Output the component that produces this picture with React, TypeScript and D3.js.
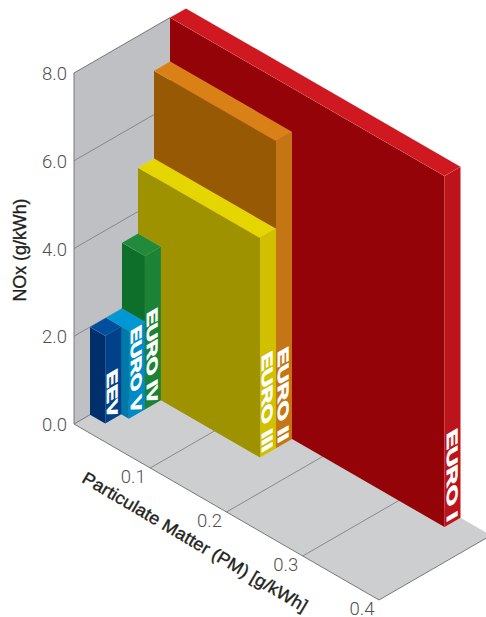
import React from "react";
import * as d3 from "d3";

const names = ["EURO I", "EURO II", "EURO III", "EURO IV", "EURO V", "EEV"];
const pmValues = [0.36, 0.16, 0.16, 0.03, 0.03, 0.02];
const noxValues = [8, 7, 5, 3.5, 2, 2];
const frontColors = ["#940308", "#985905", "#9f9200", "#0d6f2a", "#0079a8", "#002f6c"];
const topColors = ["#cf1820", "#d98016", "#e5d500", "#228a3b", "#0098d4", "#004f9f"];
const sideColors = ["#bd131b", "#c47615", "#d0c000", "#1c8238", "#008bc7", "#00418a"];
const labelLengths = [90, 93, 98, 93, 85, 46];
const noxTicks = [0, 2, 4, 6, 8];
const pmTicks = [0.1, 0.2, 0.3, 0.4];

const W = 486, H = 617;
const originX = 74, originY = 424;
const slope = 0.577;
const slotW = 16;
const x = d3.scaleLinear().domain([0, 0.4]).range([0, 305]);
const y = d3.scaleLinear().domain([0, 8]).range([0, 351]);
const slots = d3.scaleLinear().domain([0, 7]).range([0, 7 * slotW]);

// pm along the right-going floor axis, slot along the depth axis, nox up
const P = (pm: number, slot: number, nox: number): [number, number] => [
  originX + x(pm) + slots(slot),
  originY + x(pm) * slope - slots(slot) * slope - y(nox),
];
const path = d3.line().curve(d3.curveLinearClosed);
const seg = (a: [number, number], b: [number, number]) => `M${a[0]},${a[1]}L${b[0]},${b[1]}`;

const sans = "'Liberation Sans', Arial, sans-serif";
const light = "Roboto, 'Liberation Sans', sans-serif";
const tickColor = "#4f5052";
const lineColor = "#77787b";

export default function App() {
  const order = d3.range(names.length);
  return (
    <svg width={W} height={H} viewBox={`0 0 ${W} ${H}`} style={{ position: "absolute", left: 0, top: 0, background: "#fff" }}>
      <path d={path([P(0, 0, 0), P(0.4, 0, 0), P(0.4, 7, 0), P(0, 7, 0)])!} fill="#cdced0" />
      <path d={path([P(0, 0, 0), P(0, 6, 0), P(0, 6, 8), P(0, 0, 8)])!} fill="#bfc0c4" />
      {noxTicks.slice(1, -1).map((n) => (
        <path key={n} d={seg(P(0, 0, n), P(0, 6, n))} stroke={lineColor} strokeWidth={0.8} fill="none" />
      ))}
      {pmTicks.slice(0, -1).map((p) => (
        <path key={p} d={seg(P(p, 0, 0), P(p, 7, 0))} stroke={lineColor} strokeWidth={0.8} fill="none" />
      ))}
      <path d={seg(P(0, 0, 8), P(0, 6, 8))} stroke={lineColor} strokeWidth={1} fill="none" />
      <path d={seg(P(0, 0, 0), P(0, 0, 8))} stroke={lineColor} strokeWidth={1} fill="none" />
      <path d={seg(P(0, 0, 0), P(0.4, 0, 0))} stroke={lineColor} strokeWidth={1} fill="none" />
      <path d={seg(P(0.4, 0, 0), P(0.4, 7, 0))} stroke={lineColor} strokeWidth={1} fill="none" />
      <path d={seg(P(0, 0, 0), P(0, 1, 0))} stroke={lineColor} strokeWidth={1} fill="none" />

      {order.map((i) => {
        const slot = 6 - i;
        const pm = pmValues[i];
        const n = noxValues[i];
        const a = P(pm, slot, 0);
        const tx = a[0] + 2;
        const ty = a[1] - 4;
        return (
          <g key={names[i]}>
            <path d={path([P(0, slot, 0), P(pm, slot, 0), P(pm, slot, n), P(0, slot, n)])!} fill={frontColors[i]} />
            <path d={path([P(pm, slot, 0), P(pm, slot + 1, 0), P(pm, slot + 1, n), P(pm, slot, n)])!} fill={sideColors[i]} />
            <path d={path([P(0, slot, n), P(pm, slot, n), P(pm, slot + 1, n), P(0, slot + 1, n)])!} fill={topColors[i]} stroke="rgba(255,255,255,0.18)" strokeWidth={0.5} />
            <g transform={`matrix(0,1,-1,${slope},${tx},${ty})`}>
              <text
                textAnchor="end"
                textLength={labelLengths[i]}
                lengthAdjust="spacingAndGlyphs"
                fontFamily={sans}
                fontWeight={700}
                fontSize={15}
                fill="#fff"
                stroke="#fff"
                strokeWidth={0.7}
              >
                {names[i]}
              </text>
            </g>
          </g>
        );
      })}

      {noxTicks.map((n) => (
        <text key={n} x={67} y={P(0, 0, n)[1] + 7} textAnchor="end" fontFamily={light} fontWeight={300} fontSize={18.5} fill={tickColor}>
          {n.toFixed(1)}
        </text>
      ))}
      {pmTicks.map((p) => {
        const q = P(p, 0, 0);
        return (
          <text key={p} x={q[0] - 17} y={q[1] + 15} textAnchor="middle" fontFamily={light} fontWeight={300} fontSize={18.5} fill={tickColor}>
            {p.toFixed(1)}
          </text>
        );
      })}
      <text transform="translate(25.5,250) rotate(-90)" textAnchor="middle" textLength={103} lengthAdjust="spacingAndGlyphs" fontFamily={sans} fontSize={18} fill="#231f20" stroke="#231f20" strokeWidth={0.35}>
        NOx (g/kWh)
      </text>
      <text transform="translate(192,547) rotate(30.5)" textAnchor="middle" textLength={258} lengthAdjust="spacingAndGlyphs" fontFamily={sans} fontSize={17.5} fill="#231f20" stroke="#231f20" strokeWidth={0.35}>
        Particulate Matter (PM) [g/kWh]
      </text>
    </svg>
  );
}
